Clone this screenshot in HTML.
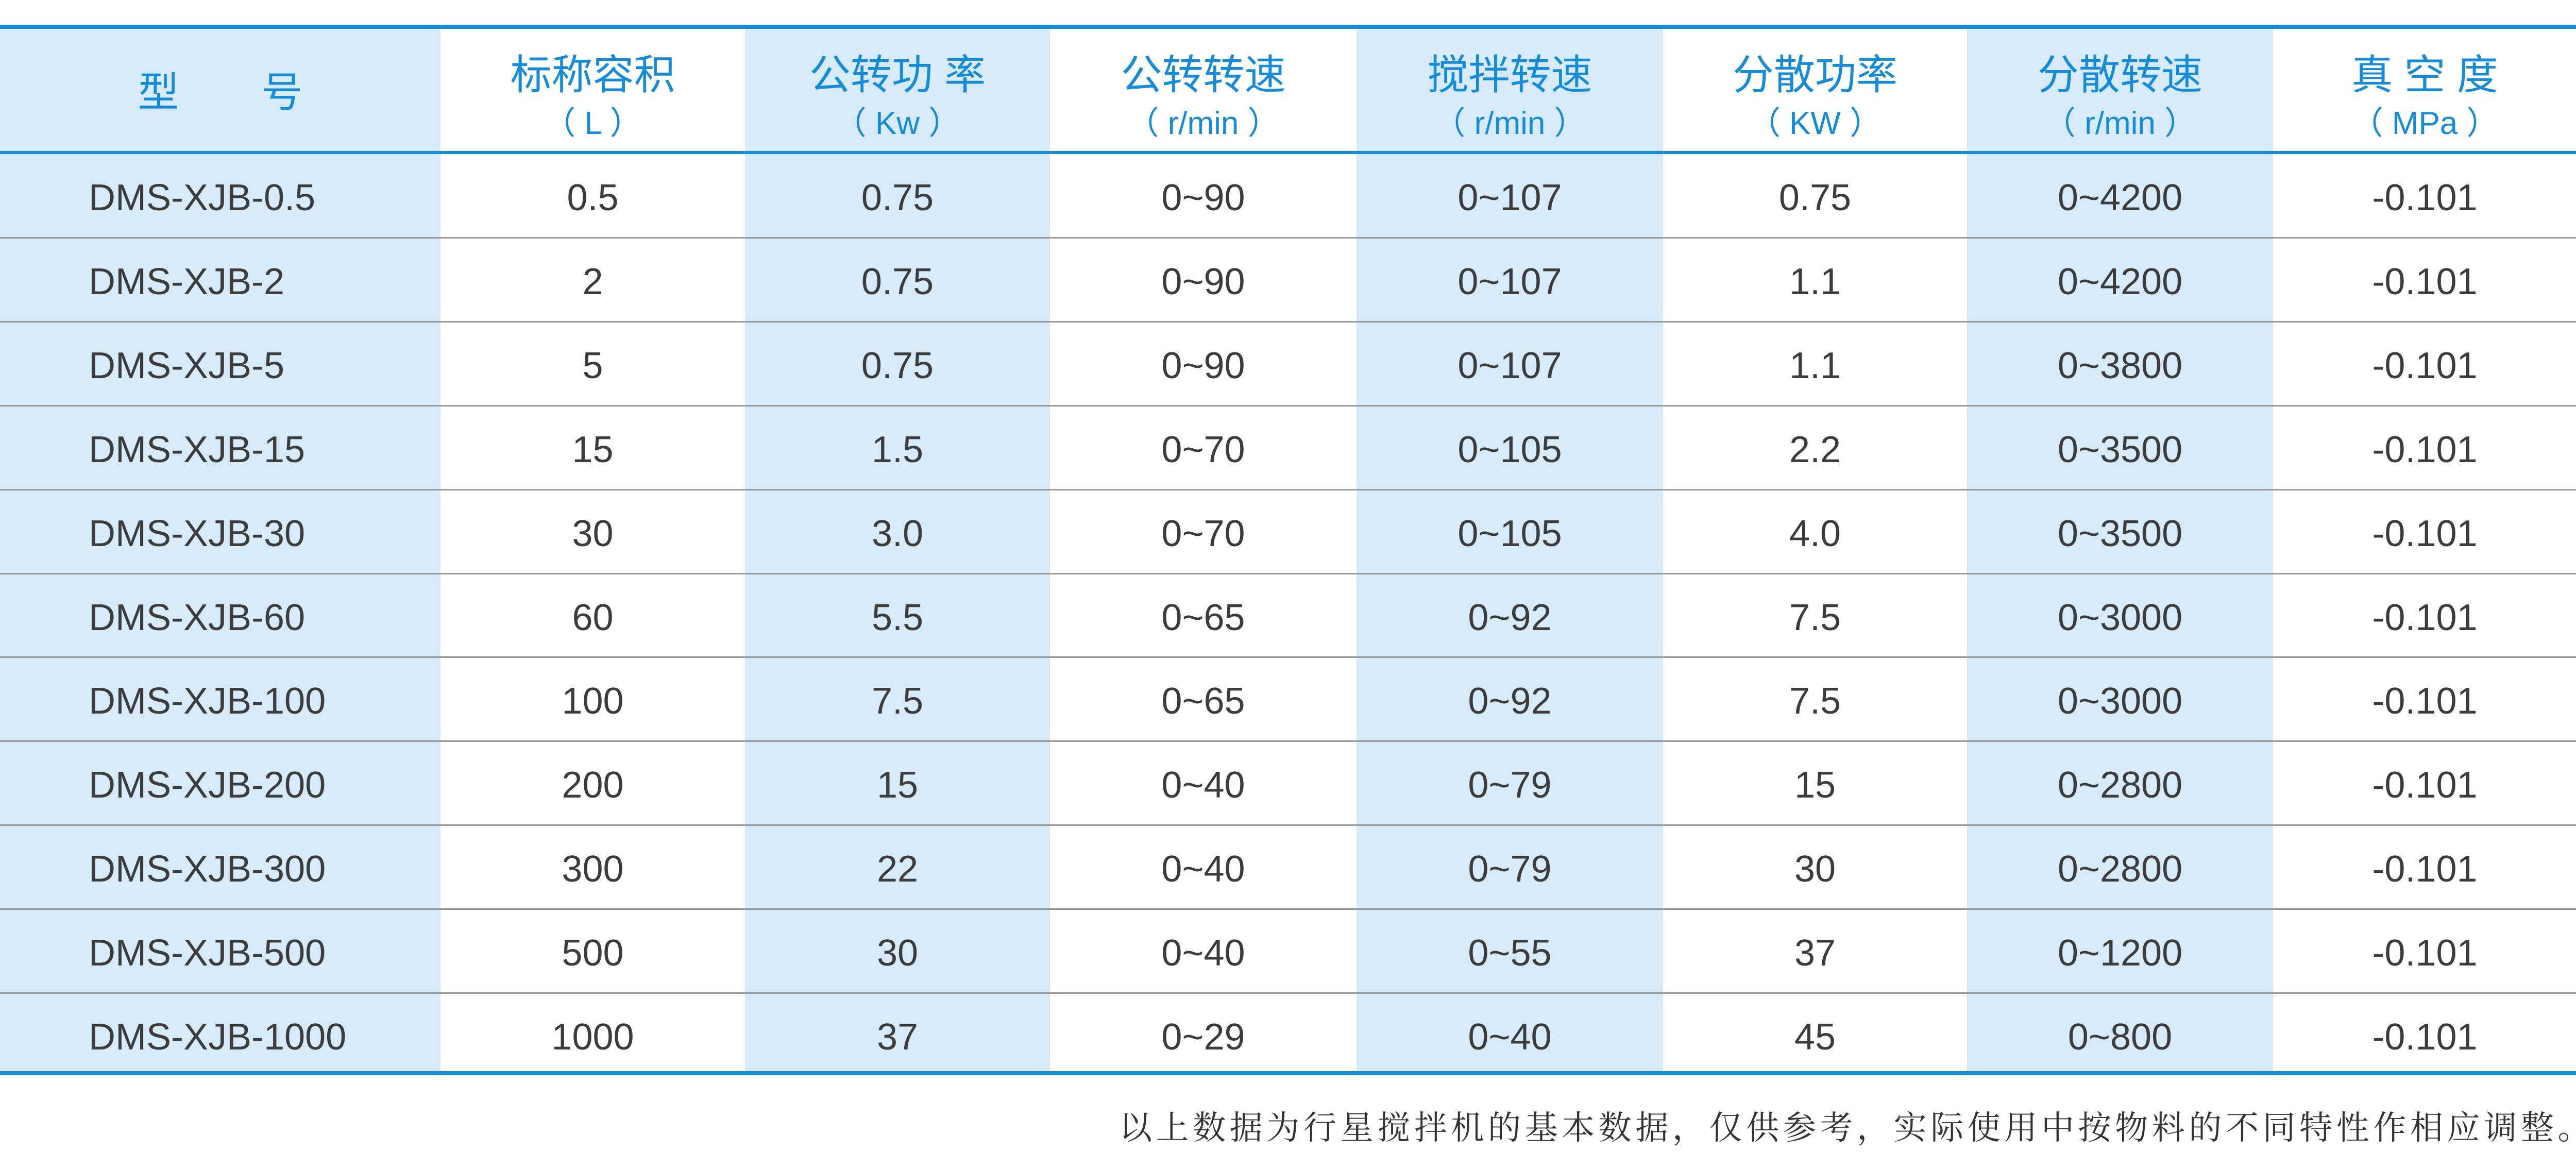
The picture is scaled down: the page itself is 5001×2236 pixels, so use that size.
<!DOCTYPE html>
<html><head><meta charset="utf-8"><style>
*{margin:0;padding:0}
body{width:5001px;height:2236px;background:#fff;position:relative;overflow:hidden;font-family:"Liberation Sans","Noto Sans CJK SC",sans-serif}
.col{position:absolute;top:56px;height:2026px;background:#d6eaf9}
.hl{position:absolute;left:0;width:5001px}
.h{position:absolute;color:#168cd9;text-align:center;font-size:80px;line-height:80px}
.c{position:absolute;color:#3c3c3c;text-align:center;font-size:72px;line-height:80px}
</style></head><body>
<div class="col" style="left:0;width:855px"></div>
<div class="col" style="left:1446px;width:592px"></div>
<div class="col" style="left:2633px;width:595px"></div>
<div class="col" style="left:3818px;width:594px"></div>
<div class="hl" style="top:48px;height:8px;background:#168cd9"></div>
<div class="hl" style="top:293px;height:6px;background:#168cd9"></div>
<div class="hl" style="top:2079px;height:8px;background:#168cd9"></div>
<div id="g"></div>
<div style="position:absolute;left:2172px;top:2150px;width:2900px;font-family:'Liberation Serif','Noto Serif CJK SC',serif;font-size:64px;letter-spacing:7.6px;color:#333;white-space:nowrap;line-height:80px">以上数据为行星搅拌机的基本数据，仅供参考，实际使用中按物料的不同特性作相应调整。</div>
<script>
(function(){
var xs=[0,855,1446,2038,2633,3228,3818,4412,5001];
var H=[["型　号",""],["标称容积","（ L ）"],["公转功 率","（ Kw ）"],["公转转速","（ r/min ）"],["搅拌转速","（ r/min ）"],["分散功率","（ KW ）"],["分散转速","（ r/min ）"],["真 空 度","（ MPa ）"]];
var R=[["DMS-XJB-0.5","0.5","0.75","0~90","0~107","0.75","0~4200"],
["DMS-XJB-2","2","0.75","0~90","0~107","1.1","0~4200"],
["DMS-XJB-5","5","0.75","0~90","0~107","1.1","0~3800"],
["DMS-XJB-15","15","1.5","0~70","0~105","2.2","0~3500"],
["DMS-XJB-30","30","3.0","0~70","0~105","4.0","0~3500"],
["DMS-XJB-60","60","5.5","0~65","0~92","7.5","0~3000"],
["DMS-XJB-100","100","7.5","0~65","0~92","7.5","0~3000"],
["DMS-XJB-200","200","15","0~40","0~79","15","0~2800"],
["DMS-XJB-300","300","22","0~40","0~79","30","0~2800"],
["DMS-XJB-500","500","30","0~40","0~55","37","0~1200"],
["DMS-XJB-1000","1000","37","0~29","0~40","45","0~800"]];
var s="";
for(var i=0;i<8;i++){var l=xs[i],w=xs[i+1]-xs[i];
 if(i==0)s+='<div class="h" style="left:'+l+'px;width:'+w+'px;top:140px">型　　号</div>';
 else{s+='<div class="h" style="left:'+l+'px;width:'+w+'px;top:106px">'+H[i][0]+'</div>';
 s+='<div class="h" style="left:'+l+'px;width:'+w+'px;top:200px;font-size:62px">'+H[i][1]+'</div>';}}
for(var r=0;r<11;r++){var ty=Math.round(299+r*162.9);
 if(r>0)s+='<div class="hl" style="top:'+(ty-2)+'px;height:3px;background:#9a9a9a"></div>';
 var row=R[r].concat(["-0.101"]);
 for(var i=0;i<8;i++){var l=xs[i],w=xs[i+1]-xs[i];
  if(i==0)s+='<div class="c" style="left:172px;text-align:left;width:700px;top:'+(ty+45)+'px">'+row[i]+'</div>';
  else s+='<div class="c" style="left:'+l+'px;width:'+w+'px;top:'+(ty+45)+'px">'+row[i]+'</div>';}}
document.getElementById("g").innerHTML=s;
})();
</script>
</body></html>
